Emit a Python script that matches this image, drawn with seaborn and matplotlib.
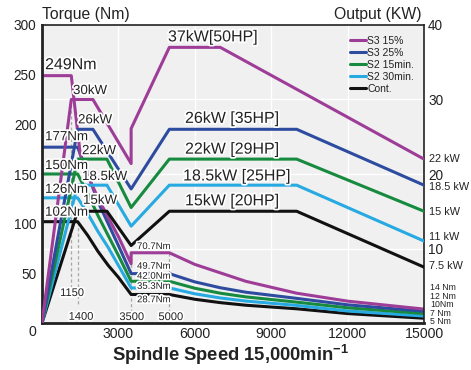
import matplotlib
matplotlib.use("Agg")
import matplotlib.pyplot as plt
import matplotlib.patheffects as pe
from matplotlib.lines import Line2D
import seaborn as sns
import pandas as pd

# ---------------- data ----------------
series_names = ["S3 15%", "S3 25%", "S2 15min.", "S2 30min.", "Cont."]
series_colors = ["#9e3d98", "#2d4b9f", "#168a3e", "#27aae1", "#111111"]

# power curves (kW) vs spindle speed (min-1)
pwr_speed_s3_15 = [0, 1150, 2000, 3500, 3500, 5000, 7000, 15000]
pwr_s3_15 = [0, 30, 30, 21.4, 26.1, 37, 37, 22]
pwr_speed_std = [0, 1400, 2000, 3500, 5000, 10000, 15000]
pwr_s3_25 = [0, 26, 26, 18, 26, 26, 18.5]
pwr_speed_low = [0, 1400, 2550, 3500, 5000, 10000, 15000]
pwr_s2_15 = [0, 22, 22, 15.5, 22, 22, 15]
pwr_s2_30 = [0, 18.5, 18.5, 13, 18.5, 18.5, 11]
pwr_cont = [0, 15, 15, 10.4, 15, 15, 7.5]

# torque curves (Nm) vs spindle speed
trq_speed_s3_15 = [0, 1150, 1300, 1500, 1800, 2200, 2600, 3000, 3500, 3500,
                   5000, 6000, 7000, 8000, 10000, 12000, 15000]
trq_s3_15 = [249, 249, 215, 170, 148, 126, 106, 87, 59.6, 70.7,
             70.7, 59, 50.5, 42, 30, 22, 14]
trq_speed = [0, 1400, 1800, 2200, 2600, 3000, 3500, 5000, 6000, 7000, 8000,
             10000, 12000, 15000]
trq_s3_25 = [177, 177, 150, 122, 100, 78, 49.7, 49.7, 41.4, 35.5, 31, 24.8, 18.3, 11.8]
trq_s2_15 = [150, 150, 130, 108, 88, 68, 42, 42, 35, 30, 26.3, 21, 15.3, 9.5]
trq_s2_30 = [126, 126, 110, 92, 76, 58, 35.3, 35.3, 29.4, 25.2, 22.1, 17.7, 12.1, 7]
trq_cont = [102, 102, 88, 72, 58, 46, 28.7, 28.7, 23.9, 20.5, 17.9, 14.3, 9.5, 4.8]

x_ticks = [0, 3000, 6000, 9000, 12000, 15000]
x_tick_labels = ["", "3000", "6000", "9000", "12000", "15000"]
y_ticks = [0, 50, 100, 150, 200, 250, 300]
y_tick_labels = ["", "50", "100", "150", "200", "250", "300"]
y2_ticks = [10, 20, 30, 40]
y2_tick_labels = ["10", "20", "30", "40"]

peak_torque_labels = ["249Nm", "177Nm", "150Nm", "126Nm", "102Nm"]
peak_torque_pos = [260, 187, 158, 134, 111]
peak_power_labels = ["30kW", "26kW", "22kW", "18.5kW", "15kW"]
peak_power_pos = [(1217, 233.5), (1414, 204), (1571, 173), (1571, 147), (1610, 123)]
rated_labels = ["37kW[50HP]", "26kW [35HP]", "22kW [29HP]", "18.5kW [25HP]", "15kW [20HP]"]
rated_pos = [(4948, 288), (5616, 206), (5616, 175), (5540, 148), (5616, 123)]
flat_torque_labels = ["70.7Nm", "49.7Nm", "42.0Nm", "35.3Nm", "28.7Nm"]
flat_torque_pos = [77.5, 57.6, 47.6, 37.4, 23.9]
end_kw_labels = ["22 kW", "18.5 kW", "15 kW", "11 kW", "7.5 kW"]
end_kw_pos = [22, 18.3, 14.9, 11.6, 7.65]
end_nm_labels = ["14 Nm", "12 Nm", "10Nm", "7 Nm", "5 Nm"]
end_nm_pos = [4.7, 3.5, 2.42, 1.34, 0.25]

# ---------------- style ----------------
sns.set_style("white", {"axes.facecolor": "#f0f0f0"})
plt.rcParams["font.family"] = ["Liberation Sans", "DejaVu Sans"]
plt.rcParams["mathtext.fontset"] = "custom"
plt.rcParams["mathtext.bf"] = "Liberation Sans:bold"
plt.rcParams["mathtext.rm"] = "Liberation Sans"

TXT = "#222222"
fig = plt.figure(figsize=(4.71, 3.70), dpi=100)
ax = fig.add_axes([42 / 471, 1 - 323 / 370, 382 / 471, 298 / 370])
ax2 = ax.twinx()

ax.set_xlim(0, 15000)
ax.set_ylim(0, 300)
ax2.set_ylim(0, 40)

# grid
for xv in [3000, 6000, 9000, 12000]:
    ax.axvline(xv, color="white", lw=1.0, zorder=0.5)
for yv in [75, 150, 225]:
    ax.axhline(yv, color="white", lw=1.0, zorder=0.5)

# dashed reference lines
dash_kw = dict(color="#a8a8a8", lw=0.9, ls=(0, (2.5, 2)), zorder=1)
ax.plot([1150, 1150], [225, 36], **dash_kw)
ax.plot([1400, 1400], [102, 17], **dash_kw)
ax.plot([3500, 3500], [70.7, 11.5], **dash_kw)
ax.plot([5000, 5000], [70.7, 11.5], **dash_kw)

LW = 2.2
trq_sets = [(trq_speed_s3_15, trq_s3_15), (trq_speed, trq_s3_25), (trq_speed, trq_s2_15),
            (trq_speed, trq_s2_30), (trq_speed, trq_cont)]
pwr_sets = [(pwr_speed_s3_15, pwr_s3_15), (pwr_speed_std, pwr_s3_25), (pwr_speed_low, pwr_s2_15),
            (pwr_speed_low, pwr_s2_30), (pwr_speed_low, pwr_cont)]

for (xs, ys), c in zip(reversed(trq_sets), reversed(series_colors)):
    df = pd.DataFrame({"speed": xs, "val": ys})
    sns.lineplot(data=df, x="speed", y="val", ax=ax, color=c, lw=LW, sort=False,
                 estimator=None, legend=False, zorder=2)
for (xs, ys), c in zip(reversed(pwr_sets), reversed(series_colors)):
    df = pd.DataFrame({"speed": xs, "val": ys})
    sns.lineplot(data=df, x="speed", y="val", ax=ax2, color=c, lw=LW, sort=False,
                 estimator=None, legend=False, zorder=2)

ax.set_xlabel("")
ax.set_ylabel("")
ax2.set_ylabel("")

# ticks
ax.set_xticks(x_ticks)
ax.set_xticklabels(x_tick_labels, fontsize=10.2, color=TXT)
ax.set_yticks(y_ticks)
ax.set_yticklabels(y_tick_labels, fontsize=9.8, color=TXT)
ax.tick_params(axis="x", length=0, pad=3)
ax.tick_params(axis="y", length=0, pad=4)
ax2.set_yticks(y2_ticks)
ax2.set_yticklabels(y2_tick_labels, fontsize=9.8, color=TXT)
ax2.tick_params(axis="y", length=0, pad=3)
ax2.grid(False)
ax.grid(False)

for sp in ["left", "bottom"]:
    ax.spines[sp].set_linewidth(2.0)
    ax.spines[sp].set_color("#222222")
for sp in ["top", "right"]:
    ax.spines[sp].set_linewidth(1.2)
    ax.spines[sp].set_color("#222222")
for sp in ax2.spines.values():
    sp.set_visible(False)

halo = [pe.withStroke(linewidth=2.5, foreground="white")]

def label(x, y, s, size, ha="left", va="center", **kw):
    ax2.text(x, y, s, transform=ax.transData, fontsize=size, ha=ha, va=va,
             color=TXT, path_effects=halo, zorder=5, **kw)

for s, yv in zip(peak_torque_labels, peak_torque_pos):
    label(120, yv, s, 11.5 if s == "249Nm" else 9.6)
for s, (xv, yv) in zip(peak_power_labels, peak_power_pos):
    label(xv, yv, s, 9.6)
for s, (xv, yv) in zip(rated_labels, rated_pos):
    label(xv, yv, s, 11.5)
for s, yv in zip(flat_torque_labels, flat_torque_pos):
    label(3731, yv, s, 6.9)
label(1180, 30.2, "1150", 8, ha="center")
label(1530, 6.3, "1400", 8, ha="center")
label(3522, 6.0, "3500", 8, ha="center")
label(5054, 6.0, "5000", 8, ha="center")

# right-side end labels
for s, yv in zip(end_kw_labels, end_kw_pos):
    ax2.text(1.012, yv, s, transform=ax2.get_yaxis_transform(), fontsize=7.8,
             ha="left", va="center", color=TXT)
for s, yv in zip(end_nm_labels, end_nm_pos):
    ax2.text(1.016, yv, s, transform=ax2.get_yaxis_transform(), fontsize=6.3,
             ha="left", va="center", color=TXT)

# legend
handles = [Line2D([0], [0], color=c, lw=2.2) for c in series_colors]
leg = ax2.legend(handles, series_names, loc="upper right", bbox_to_anchor=(0.99, 0.985),
                 frameon=False, fontsize=7.5, handlelength=1.5, handletextpad=0.1,
                 labelspacing=0.2, borderaxespad=0.2)
for t in leg.get_texts():
    t.set_color(TXT)

# titles
fig.text(42 / 471, 1 - 15 / 370, "Torque (Nm)", fontsize=11.3, ha="left", va="center", color=TXT)
fig.text(421 / 471, 1 - 15 / 370, "Output (KW)", fontsize=11.3, ha="right", va="center", color=TXT)
fig.text(32 / 471, 1 - 332 / 370, "0", fontsize=10.2, ha="center", va="center", color=TXT)
fig.text(231 / 471, 1 - 355 / 370, r"Spindle Speed 15,000min$^{\mathbf{-1}}$", fontsize=13.2,
         fontweight="bold", ha="center", va="center", color=TXT)

fig.savefig("out.png", dpi=100)
